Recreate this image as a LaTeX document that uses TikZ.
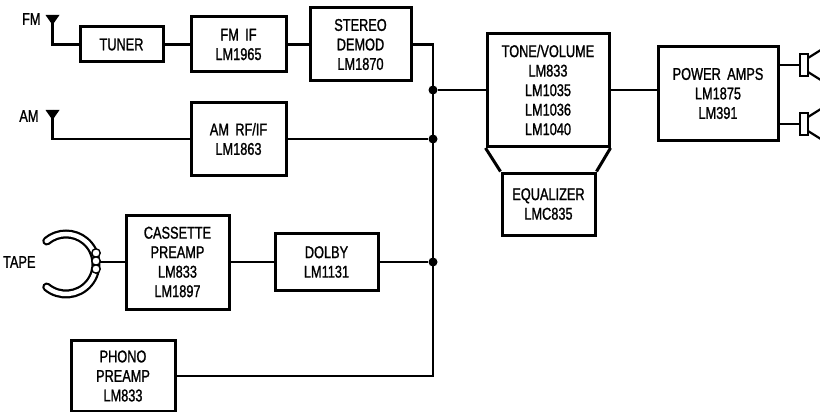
\documentclass[tikz,border=0pt]{standalone}
\usepackage{fontspec}
\newfontfamily\plotfont{Liberation Sans}[FakeStretch=0.75,FakeBold=1.2,WordSpace=1.8]
\usetikzlibrary{positioning}

\begin{document}
\begin{tikzpicture}[x=1pt,y=-1pt,
    every node/.style={font=\plotfont\fontsize{17}{19.5}\selectfont},
    blk/.style={draw,line width=3pt,align=center,inner sep=0pt},
    wire/.style={line width=2.2pt},
    dot/.style={circle,fill,inner sep=0pt,minimum size=9pt}]
  \useasboundingbox (0,0) rectangle (820,412);
  % Blocks
  \node[blk,minimum width=83pt,minimum height=35pt] (tuner) at (121.5,44.5) {TUNER};
  \node[blk,minimum width=95pt,minimum height=55pt] (fmif) at (238.5,44.5) {FM IF\\LM1965};
  \node[blk,minimum width=101pt,minimum height=73pt] (stereo) at (360.5,44.5) {STEREO\\DEMOD\\LM1870};
  \node[blk,minimum width=95pt,minimum height=73pt] (amrf) at (238.5,139) {AM RF/IF\\LM1863};
  \node[blk,minimum width=103pt,minimum height=94pt] (cassette) at (177.5,262) {CASSETTE\\PREAMP\\LM833\\LM1897};
  \node[blk,minimum width=103pt,minimum height=57pt] (dolby) at (326.5,262) {DOLBY\\LM1131};
  \node[blk,minimum width=104pt,minimum height=71pt] (phono) at (123,376) {PHONO\\PREAMP\\LM833};
  \node[blk,minimum width=122pt,minimum height=113pt] (tone) at (548,90) {TONE/VOLUME\\LM833\\LM1035\\LM1036\\LM1040};
  \node[blk,minimum width=93pt,minimum height=62pt] (eq) at (548.5,204) {EQUALIZER\\LMC835};
  \node[blk,minimum width=120pt,minimum height=93pt] (power) at (718,93.5) {POWER AMPS\\LM1875\\LM391};
  \draw[line width=3pt] (tone.south west) -- (eq.north west);
  \draw[line width=3pt] (tone.south east) -- (eq.north east);
  % Antennas
  \node[anchor=east] (fmlbl) at (44,19) {FM};
  \node[anchor=east] (amlbl) at (42,116) {AM};
  \coordinate (fmant) at (52.5,15);
  \coordinate (amant) at (52.5,110);
  \fill (fmant) ++(-7,0) -- ++(14,0) -- ++(-7,10) -- cycle;
  \fill (amant) ++(-7,0) -- ++(14,0) -- ++(-7,10) -- cycle;
  \draw[wire] (fmant) |- (tuner.west);
  \draw[wire] (amant) |- (amrf.west);
  % Tape head
  \node[anchor=east] (tapelbl) at (39,262) {TAPE};
  \draw[line width=9pt,line cap=round] (66,264) ++(130:30) arc[start angle=130,end angle=-130,radius=30];
  \draw[white,line width=4.5pt,line cap=round] (66,264) ++(130:30) arc[start angle=130,end angle=-130,radius=30];
  \foreach \yy in {253,261,269}
    \draw[line width=1.4pt,fill=white] (96,\yy) circle[radius=4.2];
  \coordinate (tapehead) at (100,262);
  % Junctions
  \node[dot] (jtone) at (433,90) {};
  \node[dot] (jam) at (433,139) {};
  \node[dot] (jdolby) at (433,262) {};
  % Signal path
  \draw[wire] (tuner) -- (fmif);
  \draw[wire] (fmif) -- (stereo);
  \draw[wire] (stereo.east) -| (jtone.center) -- (jam.center) -- (jdolby.center) |- (phono.east);
  \draw[wire] (amrf.east) -- (jam);
  \draw[wire] (tapehead) -- (cassette.west);
  \draw[wire] (cassette) -- (dolby);
  \draw[wire] (dolby.east) -- (jdolby);
  \draw[wire] (jtone) -- (tone.west |- jtone);
  \draw[wire] (tone.east) -- (tone.east -| power.west);
  % Speakers
  \coordinate (spk1) at (800,65);
  \coordinate (spk2) at (800,124);
  \foreach \s in {spk1,spk2} {
    \draw[wire] (power.east |- \s) -- (\s);
    \draw[wire] (\s) ++(0,-11) rectangle ++(8,22);
    \draw[wire] (\s) ++(8,-7) -- ++(16,-10);
    \draw[wire] (\s) ++(8,7) -- ++(16,10);
  }
\end{tikzpicture}
\end{document}
